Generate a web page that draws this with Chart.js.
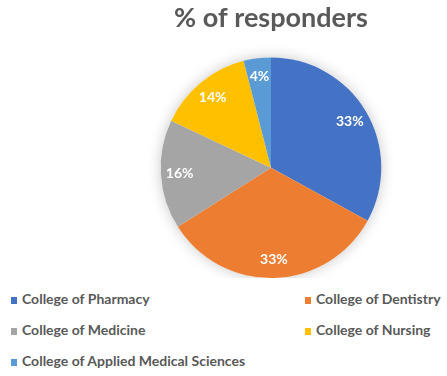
<!DOCTYPE html>
<html>
<head>
<meta charset="utf-8">
<script src="https://cdn.jsdelivr.net/npm/chart.js@4"></script>
<style>
  body { margin: 0; background: #fff; }
  #wrap { position: relative; width: 447px; height: 376px; overflow: hidden; }
  #chartBox { position: absolute; left: 95px; top: 0; width: 352px; height: 278px; }
  .leg { position: absolute; font: bold 14px Lato, sans-serif; color: #595959; white-space: nowrap; }
  .leg span { display: inline-block; width: 6px; height: 7px; margin-right: 5px; vertical-align: 0px; }
</style>
</head>
<body>
<div id="wrap">
  <div id="chartBox"><canvas id="grafica"></canvas></div>
  <div id="leyenda"></div>
</div>
<script>
// datos del grafico
const colegios = ['College of Pharmacy', 'College of Dentistry', 'College of Medicine', 'College of Nursing', 'College of Applied Medical Sciences'];
const porcentajes = [33, 33, 16, 14, 4];
const colores = ['#4472C4', '#ED7D31', '#A5A5A5', '#FFC000', '#5B9BD5'];
const titulo = '% of responders';

// sombra suave detras del pastel
const sombraPastel = {
  id: 'sombraPastel',
  beforeDatasetsDraw(chart) {
    const arc = chart.getDatasetMeta(0).data[0];
    if (!arc) return;
    const { x, y, outerRadius } = arc.getProps(['x', 'y', 'outerRadius'], true);
    const ctx = chart.ctx;
    ctx.save();
    ctx.shadowColor = 'rgba(0,0,0,0.22)';
    ctx.shadowBlur = 14;
    ctx.fillStyle = '#fff';
    ctx.beginPath();
    ctx.arc(x, y, outerRadius, 0, Math.PI * 2);
    ctx.fill();
    ctx.restore();
  }
};

// etiquetas de porcentaje dentro de cada porcion
const etiquetas = {
  id: 'etiquetas',
  afterDatasetsDraw(chart) {
    const ctx = chart.ctx;
    const meta = chart.getDatasetMeta(0);
    ctx.save();
    ctx.fillStyle = '#fff';
    ctx.font = 'bold 14px Lato, sans-serif';
    ctx.textAlign = 'center';
    ctx.textBaseline = 'middle';
    meta.data.forEach((arc, i) => {
      const p = arc.getProps(['x', 'y', 'startAngle', 'endAngle', 'outerRadius'], true);
      const mid = (p.startAngle + p.endAngle) / 2;
      const r = p.outerRadius * 0.83;
      ctx.fillText(porcentajes[i] + '%', p.x + Math.cos(mid) * r, p.y + Math.sin(mid) * r);
    });
    ctx.restore();
  }
};

new Chart(document.getElementById('grafica'), {
  type: 'pie',
  data: {
    labels: colegios,
    datasets: [{
      data: porcentajes,
      backgroundColor: colores,
      borderWidth: 0
    }]
  },
  options: {
    responsive: true,
    maintainAspectRatio: false,
    animation: false,
    layout: { padding: 0 },
    plugins: {
      legend: { display: false },
      tooltip: { enabled: false },
      title: {
        display: true,
        text: titulo,
        color: '#595959',
        font: { family: 'Lato', size: 27, weight: 'bold' },
        padding: { top: 2, bottom: 23 }
      }
    }
  },
  plugins: [sombraPastel, etiquetas]
});

// leyenda en dos columnas
const leyenda = document.getElementById('leyenda');
colegios.forEach((nombre, i) => {
  const div = document.createElement('div');
  div.className = 'leg';
  div.style.left = (i % 2 === 0 ? 11 : 305) + 'px';
  div.style.top = (290 + Math.floor(i / 2) * 31) + 'px';
  div.innerHTML = `<span style="background:${colores[i]}"></span>${nombre}`;
  leyenda.appendChild(div);
});
</script>
</body>
</html>
